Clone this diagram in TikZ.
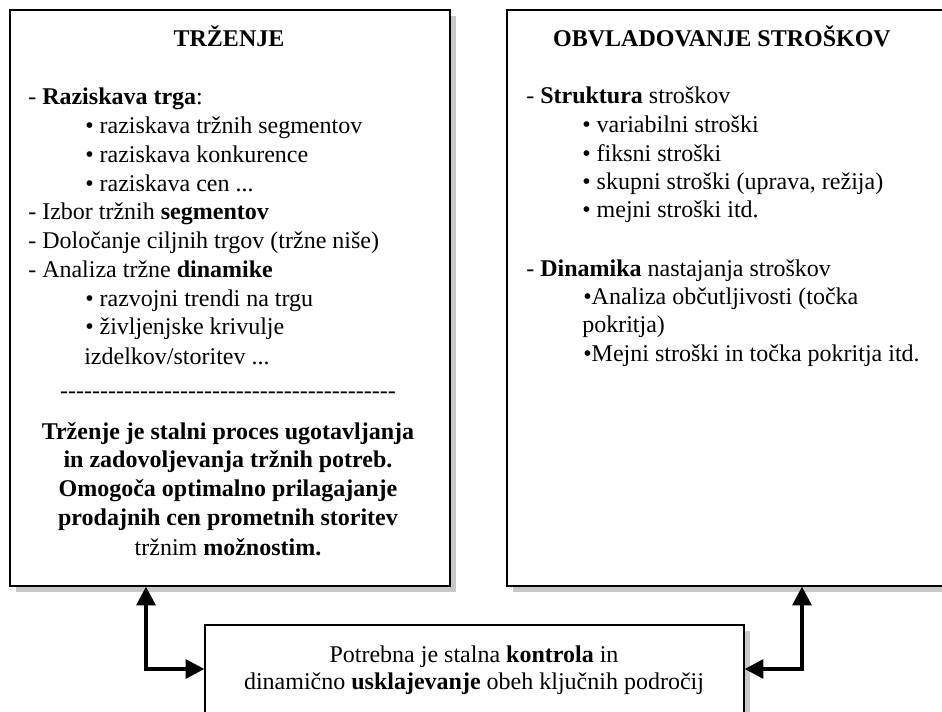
\documentclass[tikz,border=0pt]{standalone}
\usepackage{fontspec}
\setmainfont{Liberation Serif}
\usetikzlibrary{arrows.meta,shadows}
\definecolor{shadowgray}{RGB}{200,200,200}
\begin{document}
\begin{tikzpicture}[x=0.75pt,y=-0.75pt,
  panel/.style={draw=black,line width=0.9pt,fill=white,inner sep=0pt,
    drop shadow={shadow xshift=4.3pt,shadow yshift=-4.3pt,fill=shadowgray,opacity=1}},
  txt/.style={inner sep=0pt,font=\fontsize{18pt}{21.6pt}\selectfont},
  linkarrow/.style={line width=2.8pt,
    {Triangle[length=14pt,width=14pt]}-{Triangle[length=14pt,width=14pt]}}]
\useasboundingbox (0,0) rectangle (942,712);
\clip (0,0) rectangle (942,712);

% the three panels
\node[panel,minimum width=330pt,minimum height=432pt] (trz) at (230,298) {};
\node[panel,minimum width=332.25pt,minimum height=432pt] (str) at (728.5,298) {};
\node[panel,minimum width=404.25pt,minimum height=120pt] (ctrl) at (474.5,705) {};

% left panel: marketing
\node[txt,anchor=base,font=\fontsize{18pt}{21.6pt}\selectfont\bfseries] (trzt) at (229,47) {TRŽENJE};
\foreach \x/\y/\t [count=\i] in {
  28/105/{- \textbf{Raziskava trga}:},
  85/134/{• raziskava tržnih segmentov},
  85/163/{• raziskava konkurence},
  85/192/{• raziskava cen ...},
  28/220/{- Izbor tržnih \textbf{segmentov}},
  28/249/{- Določanje ciljnih trgov (tržne niše)},
  28/278/{- Analiza tržne \textbf{dinamike}},
  85/307/{• razvojni trendi na trgu},
  85/335/{• življenjske krivulje},
  84/365/{izdelkov/storitev ...}}
  \node[txt,anchor=base west] (tl\i) at (\x,\y) {\t};
\node[txt,anchor=base] (sep) at (228,399) {\foreach \k in {1,...,42}{-\kern0pt}};
\foreach \y/\t [count=\i] in {
  440/{Trženje je stalni proces ugotavljanja},
  468/{in zadovoljevanja tržnih potreb.},
  497/{Omogoča optimalno prilagajanje},
  525/{prodajnih cen prometnih storitev}}
  \node[txt,anchor=base,font=\fontsize{18pt}{21.6pt}\selectfont\bfseries] (tb\i) at (228,\y) {\t};
\node[txt,anchor=base] (tb5) at (228,555) {tržnim \textbf{možnostim.}};

% right panel: cost control
\node[txt,anchor=base,font=\fontsize{18pt}{21.6pt}\selectfont\bfseries] (strt) at (722,47) {OBVLADOVANJE STROŠKOV};
\foreach \x/\y/\t [count=\i] in {
  526/104/{- \textbf{Struktura} stroškov},
  582/133/{• variabilni stroški},
  582/162/{• fiksni stroški},
  582/190/{• skupni stroški (uprava, režija)},
  582/218/{• mejni stroški itd.},
  526/277/{- \textbf{Dinamika} nastajanja stroškov},
  583/305/{•Analiza občutljivosti (točka},
  582/333/{pokritja)},
  583/362/{•Mejni stroški in točka pokritja itd.}}
  \node[txt,anchor=base west] (tr\i) at (\x,\y) {\t};

% bottom panel
\node[txt,anchor=base] (c1) at (474,662) {Potrebna je stalna \textbf{kontrola} in};
\node[txt,anchor=base] (c2) at (474,689) {dinamično \textbf{usklajevanje} obeh ključnih področij};

% two-way links
\coordinate (jl) at (146,669);
\coordinate (jr) at (802,669);
\draw[linkarrow] (trz.south -| jl) -- (jl) -- (jl -| ctrl.west);
\draw[linkarrow] (str.south -| jr) -- (jr) -- (jr -| ctrl.east);
\end{tikzpicture}
\end{document}
